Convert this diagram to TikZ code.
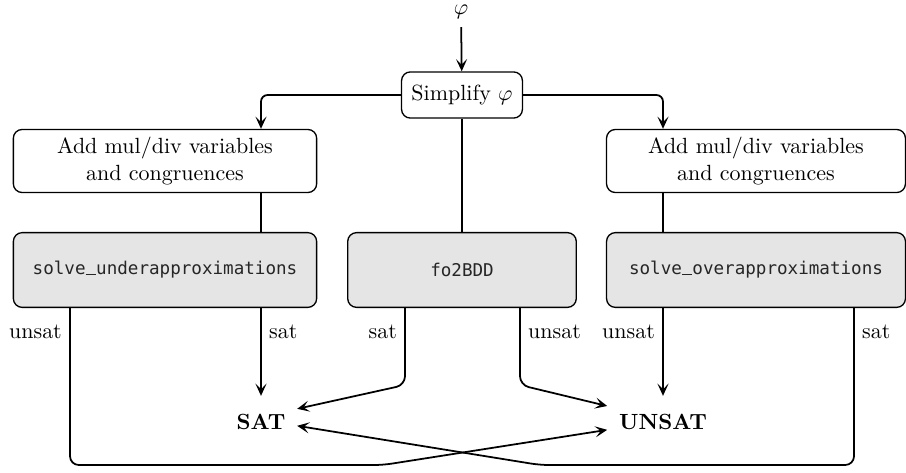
\documentclass[tikz,border=0pt]{standalone}
\usepackage{amsmath,amssymb}
\usepackage{fontspec}
\setmonofont{DejaVu Sans Mono}[Scale=0.8]
\usepackage{tikz}
\usetikzlibrary{arrows.meta}
\newcommand{\us}{\rule{0.6em}{0.5pt}}
\begin{document}
\begin{tikzpicture}[x=0.455pt,y=-0.455pt,thick,>={Stealth[length=5.5pt,width=5pt,inset=2.5pt]},
  box/.style={draw,semithick,rounded corners=4pt,align=center,minimum width=138pt,minimum height=28.7pt,inner sep=2pt},
  solver/.style={box,fill=gray!20,minimum height=34pt,font=\ttfamily\color{black!85}},
  result/.style={inner sep=5pt,minimum height=23pt,font=\bfseries}]
  \useasboundingbox (0,0) rectangle (906,472);
  \node (phi) at (461,12) {$\varphi$};
  \node[box,minimum width=55pt,minimum height=21pt] (simp) at (462,95) {Simplify $\varphi$};
  \node[box] (addl) at (165,161) {Add mul/div variables\\and congruences};
  \node[box,minimum width=136pt] (addr) at (756,161) {Add mul/div variables\\and congruences};
  \node[solver] (under) at (165,270) {solve\us underapproximations};
  \node[solver,minimum width=104pt] (bdd) at (462,270) {fo2BDD};
  \node[solver,minimum width=136pt] (over) at (756,270) {solve\us overapproximations};
  \node[result] (sat) at (261,422) {SAT};
  \node[result] (unsat) at (663,422) {UNSAT};
  \coordinate (lcol) at (261,0);
  \coordinate (rcol) at (663,0);
  \coordinate (lout) at (70,0);
  \coordinate (rout) at (854,0);
  \coordinate (bsat) at (405,0);
  \coordinate (bunsat) at (520,0);
  \coordinate (knee) at (0,385);
  \coordinate (low) at (0,465);
  \coordinate (lbend) at (383,465);
  \coordinate (rbend) at (540,465);
  \draw[->] (phi) -- (simp);
  \draw[->,rounded corners=3pt] (simp.west) -| (lcol |- addl.north);
  \draw[->,rounded corners=3pt] (simp.east) -| (rcol |- addr.north);
  \draw[semithick] (lcol |- addl.south) -- (lcol |- under.north);
  \draw[semithick] (rcol |- addr.south) -- (rcol |- over.north);
  \draw[semithick] (simp) -- (bdd);
  \draw[->] (lcol |- under.south) -- node[pos=0.27,right] {sat} (sat.north);
  \draw[->] (rcol |- over.south) -- node[pos=0.27,left] {unsat} (unsat.north);
  \draw[->,rounded corners=4pt] (bsat |- bdd.south) -- node[pos=0.31,left] {sat} (bsat |- knee) -- (sat.20);
  \draw[->,rounded corners=4pt] (bunsat |- bdd.south) -- node[pos=0.31,right] {unsat} (bunsat |- knee) -- (unsat.164);
  \draw[->,rounded corners=4pt] (lout |- under.south) -- node[pos=0.15,left] {unsat} (lout |- low) -- (lbend) -- (unsat.188);
  \draw[->,rounded corners=4pt] (rout |- over.south) -- node[pos=0.15,right] {sat} (rout |- low) -- (rbend) -- (sat.-6);
\end{tikzpicture}
\end{document}
